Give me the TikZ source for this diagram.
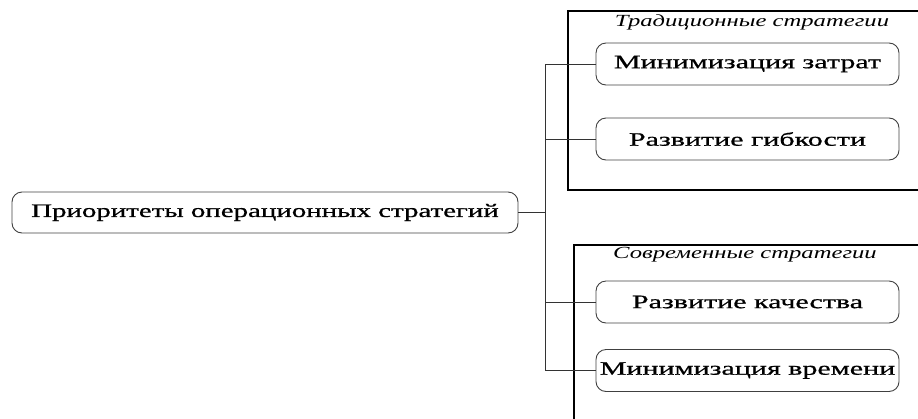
\documentclass[tikz,border=0pt]{standalone}
\usepackage{fontspec}
\setmainfont{Liberation Serif}
\newfontfamily\boxfont[FakeStretch=1.58,FakeBold=0.8]{Liberation Serif}
\newfontfamily\mainfont[FakeStretch=1.52,FakeBold=0.8]{Liberation Serif}
\newfontfamily\titlefont[FakeStretch=1.45]{Liberation Serif}
\begin{document}
\begin{tikzpicture}[x=1pt,y=-1pt,
  box/.style={draw=black!75, line width=0.9pt, rounded corners=10pt, minimum width=303pt, minimum height=42pt, inner sep=0pt, font=\boxfont\fontsize{19}{21}\selectfont},
  grp/.style={draw=black, line width=1.1pt},
  gtitle/.style={font=\titlefont\fontsize{17}{19}\selectfont\itshape, inner sep=0pt},
  conn/.style={draw=black!80, line width=0.9pt}]
\useasboundingbox (0,0) rectangle (918,418);
\draw[grp] (930,11) -- (568,11) -- (568,190) -- (930,190);
\draw[grp] (930,245) -- (574,245) -- (574,430);
\node[gtitle] (t1) at (752,22) {Традиционные стратегии};
\node[gtitle] (t2) at (745,255) {Современные стратегии};
\node[box, minimum width=506pt, minimum height=41pt, font=\mainfont\fontsize{19}{21}\selectfont] (main) at (265,212.5) {Приоритеты операционных стратегий};
\node[box] (b1) at (747.5,64) {Минимизация затрат};
\node[box] (b2) at (747.5,139) {Развитие гибкости};
\node[box] (b3) at (747.5,302) {Развитие качества};
\node[box] (b4) at (747.5,370.5) {Минимизация времени};
\coordinate (j) at (545,212.5);
\draw[conn] (main.east) -- (j);
\draw[conn] (j) |- (b1.west);
\draw[conn] (j) |- (b2.west);
\draw[conn] (j) |- (b3.west);
\draw[conn] (j) |- (b4.west);
\end{tikzpicture}
\end{document}
